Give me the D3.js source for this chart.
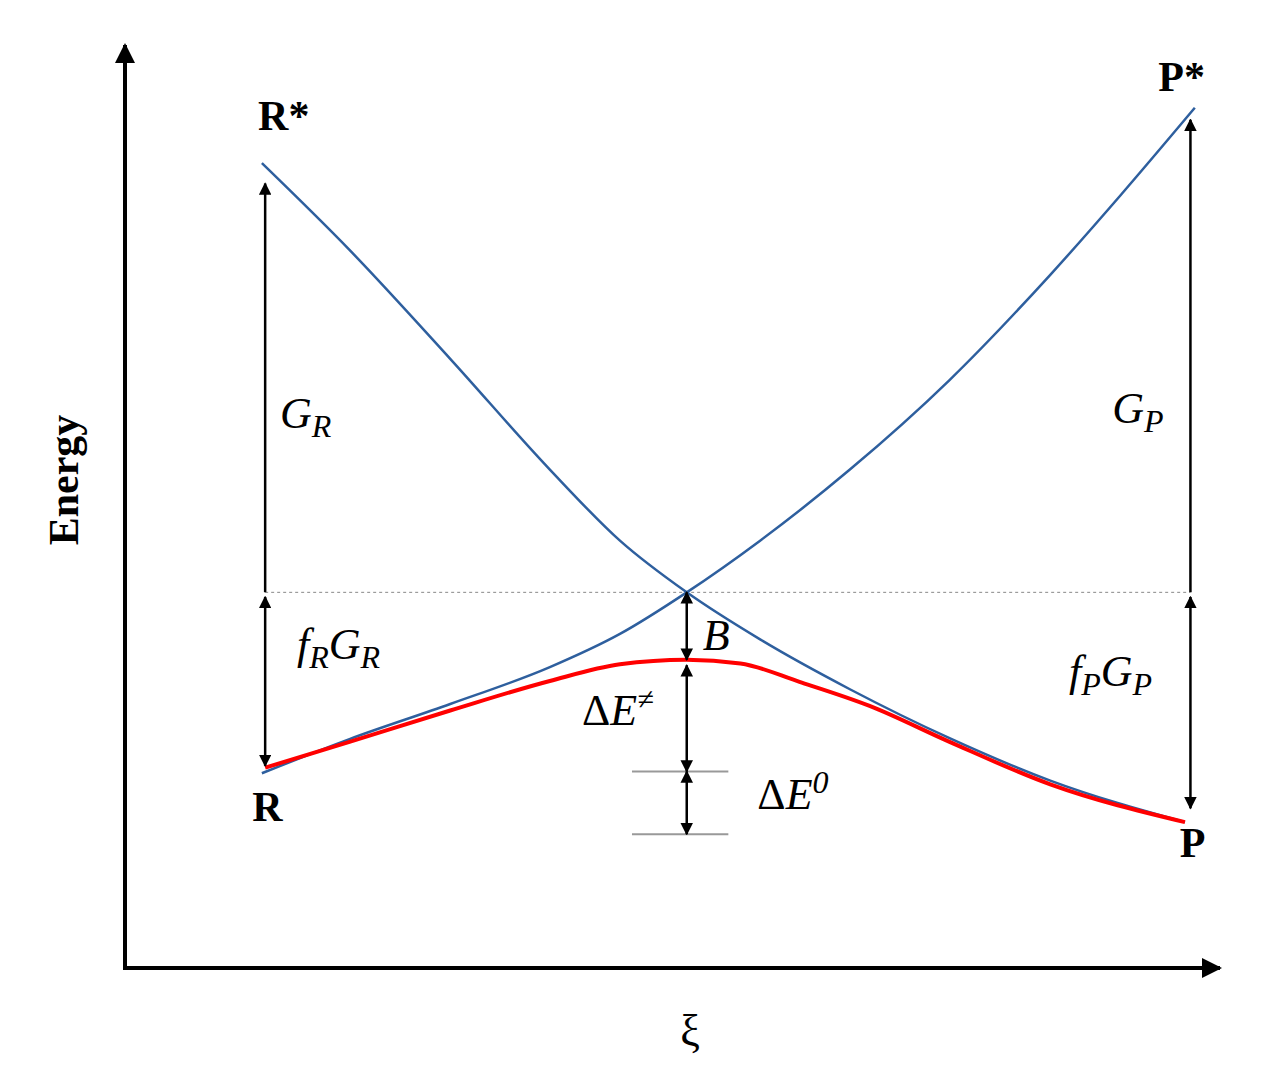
<!DOCTYPE html>
<html><head><meta charset="utf-8">
<script src="https://cdn.jsdelivr.net/npm/d3@7"></script>
<style>body{margin:0;background:#fff}</style></head>
<body><svg id="c" width="1261" height="1090"></svg>
<script>
// data (ξ 0..100, energy 0..100)
const curveRP = [[12.5,87.2],[20.5,77.8],[29.7,66.0],[38.8,54.0],[45.2,46.3],[51.3,40.7],[58.0,35.6],[66.2,30.2],[75.3,24.9],[84.5,20.3],[96.8,15.8]];
const curvePR = [[12.5,21.1],[20.5,24.8],[29.7,28.6],[38.8,32.6],[45.2,36.2],[51.3,40.7],[58.0,46.3],[66.2,54.0],[75.3,63.7],[84.5,75.1],[90.9,83.7],[97.7,93.2]];
const curveMix = [[12.8,21.7],[20.5,24.5],[29.7,27.9],[38.8,31.1],[45.2,32.9],[51.3,33.4],[56.2,33.0],[61.6,31.0],[68.0,28.4],[75.3,24.5],[84.5,19.9],[96.8,15.8]];
const crossE = 40.7, leftX = 12.8, rightX = 97.3, midX = 51.3;
const arrowsV = [
  [leftX, 85.0, crossE, "start"],[leftX, crossE-0.5, 21.9, "both"],
  [rightX, 91.9, crossE, "start"],[rightX, crossE-0.5, 17.3, "both"],
  [midX, crossE, 33.4, "both"],[midX, 32.8, 21.3, "both"],[midX, 21.3, 14.5, "both"]];
const grayLevels = [21.3, 14.5];
const labels = [
  {t:"R*",x:14.5,y:90.8},{t:"P*",x:96.5,y:95.0},{t:"R",x:13.0,y:15.9},{t:"P",x:97.5,y:12.0}];

const svg=d3.select("#c");
const x=d3.scaleLinear().domain([0,100]).range([125,1220]);
const y=d3.scaleLinear().domain([0,100]).range([968,45]);
const defs=svg.append("defs");
defs.append("marker").attr("id","ah").attr("viewBox","0 0 10 10").attr("refX",9).attr("refY",5)
 .attr("markerWidth",5).attr("markerHeight",5).attr("orient","auto-start-reverse")
 .append("path").attr("d","M0,0L10,5L0,10z").attr("fill","#000");
defs.append("marker").attr("id","ax").attr("viewBox","0 0 10 10").attr("refX",9).attr("refY",5)
 .attr("markerWidth",5).attr("markerHeight",5).attr("orient","auto")
 .append("path").attr("d","M0,0L10,5L0,10z").attr("fill","#000");
svg.append("line").attr("x1",x(0)).attr("y1",y(0)).attr("x2",x(0)).attr("y2",y(100)).attr("stroke","#000").attr("stroke-width",4).attr("marker-end","url(#ax)");
svg.append("line").attr("x1",x(0)-2).attr("y1",y(0)).attr("x2",x(100)).attr("y2",y(0)).attr("stroke","#000").attr("stroke-width",4).attr("marker-end","url(#ax)");
svg.append("line").attr("x1",x(leftX)).attr("x2",x(rightX)).attr("y1",y(crossE)).attr("y2",y(crossE)).attr("stroke","#888").attr("stroke-width",1).attr("stroke-dasharray","3,3");
grayLevels.forEach(g=>svg.append("line").attr("x1",x(46.3)).attr("x2",x(55.1)).attr("y1",y(g)).attr("y2",y(g)).attr("stroke","#999").attr("stroke-width",2));
const line=d3.line().x(d=>x(d[0])).y(d=>y(d[1])).curve(d3.curveMonotoneX);
svg.append("path").attr("d",line(curveRP)).attr("fill","none").attr("stroke","#2e5f9e").attr("stroke-width",2.5);
svg.append("path").attr("d",line(curvePR)).attr("fill","none").attr("stroke","#2e5f9e").attr("stroke-width",2.5);
svg.append("path").attr("d",line(curveMix)).attr("fill","none").attr("stroke","#f00").attr("stroke-width",4);
arrowsV.forEach(a=>{const l=svg.append("line").attr("x1",x(a[0])).attr("x2",x(a[0])).attr("y1",y(a[2])).attr("y2",y(a[1])).attr("stroke","#000").attr("stroke-width",2.5).attr("marker-end","url(#ah)");
 if(a[3]==="both") l.attr("marker-start","url(#ah)");});
const F="'Liberation Serif','DejaVu Serif',serif";
labels.forEach(l=>svg.append("text").attr("x",x(l.x)).attr("y",y(l.y)).attr("text-anchor","middle").attr("font-family",F).attr("font-weight","bold").attr("font-size",42).text(l.t));
function it(xp,yp,parts,anchor){const t=svg.append("text").attr("x",x(xp)).attr("y",y(yp)).attr("font-family",F).attr("font-style","italic").attr("font-size",44).attr("text-anchor",anchor||"middle");
 parts.forEach(p=>{const s=t.append("tspan").text(p[0]).attr("font-size",p[3]||44);if(p[1])s.attr("dy",p[1]);if(p[2])s.attr("font-style","normal");});}
it(16.5,58.5,[["G"],["R",9,0,32]]);
it(92.5,59,[["G"],["P",9,0,32]]);
it(19.5,33.5,[["f"],["R",9,0,32],["G",-9],["R",9,0,32]]);
it(90.0,30.5,[["f"],["P",9,0,32],["G",-9],["P",9,0,32]]);
it(54.0,34.5,[["B"]]);
it(45.0,26.3,[["Δ",0,1],["E"],["≠",-16,0,30]]);
it(61.0,17.2,[["Δ",0,1],["E"],["0",-16,0,32]]);
svg.append("text").attr("transform","translate(78,480) rotate(-90)").attr("text-anchor","middle").attr("font-family",F).attr("font-weight","bold").attr("font-size",42).text("Energy");
svg.append("text").attr("x",690).attr("y",1045).attr("text-anchor","middle").attr("font-family",F).attr("font-size",44).text("ξ");
</script></body></html>
